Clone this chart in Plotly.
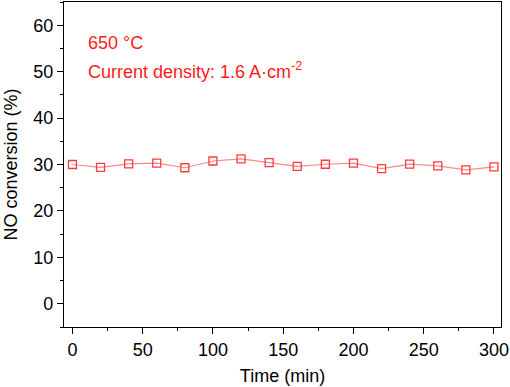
import plotly.graph_objects as go

time_min = [0, 20, 40, 60, 80, 100, 120, 140, 160, 180, 200, 220, 240, 260, 280, 300]
no_conversion = [30.0, 29.4, 30.15, 30.3, 29.3, 30.75, 31.2, 30.4, 29.6, 30.05, 30.3, 29.1, 30.1, 29.7, 28.85, 29.5]

x_ticks = [0, 50, 100, 150, 200, 250, 300]
y_ticks = [0, 10, 20, 30, 40, 50, 60]

FONT = "Arial, Liberation Sans, sans-serif"

fig = go.Figure()
fig.add_trace(go.Scatter(
    x=time_min, y=no_conversion, mode="lines+markers",
    line=dict(color="#f58a8a", width=1.2),
    marker=dict(symbol="square-open", size=8, color="#ff3b3b", line=dict(width=1.3, color="#ff3b3b")),
    showlegend=False,
))

axis_common = dict(
    showline=True, linecolor="black", linewidth=1.2, mirror=True,
    ticks="outside", ticklen=6, tickwidth=1.2, tickcolor="black",
    showgrid=False, zeroline=False,
    tickfont=dict(family=FONT, size=18, color="black"),
)

fig.update_xaxes(
    range=[-6, 305], tickvals=x_ticks,
    minor=dict(dtick=25, tick0=0, ticks="outside", ticklen=3, tickwidth=1.2, tickcolor="black", showgrid=False),
    title=dict(text="Time (min)", font=dict(family=FONT, size=18, color="black"), standoff=10),
    **axis_common,
)
fig.update_yaxes(
    range=[-5, 65], tickvals=y_ticks,
    minor=dict(dtick=5, tick0=0, ticks="outside", ticklen=3, tickwidth=1.2, tickcolor="black", showgrid=False),
    title=dict(text="NO conversion (%)", font=dict(family=FONT, size=18, color="black"), standoff=10),
    **axis_common,
)

fig.add_annotation(
    x=0.05, y=0.874, xref="paper", yref="paper", xanchor="left", yanchor="middle",
    text="650 °C", showarrow=False, font=dict(family=FONT, size=18, color="#ff1a1a"),
)
fig.add_annotation(
    x=0.05, y=0.79, xref="paper", yref="paper", xanchor="left", yanchor="middle",
    text="Current density: 1.6 A·cm<sup>-2</sup>", showarrow=False,
    font=dict(family=FONT, size=18, color="#ff1a1a"),
)

fig.update_layout(
    width=510, height=387,
    margin=dict(l=64, r=9, t=2, b=60),
    plot_bgcolor="white", paper_bgcolor="white",
)

fig.write_html("out.html", config={"displayModeBar": False},
               post_script="document.body.style.margin='0';document.body.style.padding='0';")
